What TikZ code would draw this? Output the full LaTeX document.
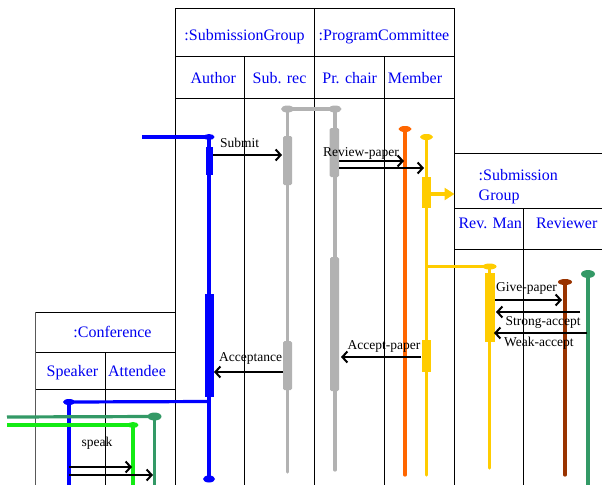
\documentclass[tikz,border=0pt]{standalone}
\usepackage{fontspec}
\setmainfont{Liberation Serif}
\usetikzlibrary{arrows.meta,shapes.geometric}
\definecolor{hblue}{RGB}{0,0,240}
\definecolor{lblue}{RGB}{0,0,255}
\definecolor{lgray}{RGB}{178,178,178}
\definecolor{lorange}{RGB}{255,102,0}
\definecolor{lyellow}{RGB}{255,204,0}
\definecolor{lbrown}{RGB}{153,51,0}
\definecolor{lsea}{RGB}{51,153,102}
\definecolor{llime}{RGB}{20,235,20}
\tikzset{
  grid/.style={draw=black, line width=1pt},
  hdr/.style={text=hblue, font=\fontsize{16}{18}\selectfont, inner sep=0pt, anchor=base},
  msg/.style={font=\fontsize{13.5}{15}\selectfont, inner sep=0pt, anchor=base west},
  life/.style={line width=3.2pt},
  head/.style={ellipse, inner sep=0pt, draw=none},
  bar/.style={rounded corners=1.5pt},
  arr/.style={-{Straight Barb[length=5pt,width=11pt]}, line width=2pt, black},
  bigarr/.style={-{Triangle[length=10pt,width=12pt]}, line width=4pt, lyellow},
}
\begin{document}
\begin{tikzpicture}[x=1pt,y=-1pt]
\useasboundingbox (0,0) rectangle (602,485);

% ---------- grid: SubmissionGroup / ProgramCommittee ----------
\draw[grid] (175,8) -- (454,8);
\draw[grid] (175,56) -- (454,56);
\draw[grid] (175,98) -- (454,98);
\draw[grid] (175,8) -- (175,485);
\draw[grid] (244.7,56) -- (244.7,485);
\draw[grid] (314.3,8) -- (314.3,485);
\draw[grid] (384.3,56) -- (384.3,485);
\draw[grid] (454,8) -- (454,485);
% ---------- grid: Submission Group (right) ----------
\draw[grid] (454,153.5) -- (602,153.5);
\draw[grid] (454,208) -- (602,208);
\draw[grid] (454,249) -- (602,249);
\draw[grid] (523,208) -- (523,485);
% ---------- grid: Conference ----------
\draw[grid] (35,312) -- (175,312);
\draw[grid] (35,352) -- (175,352);
\draw[grid] (35,389) -- (175,389);
\draw[grid, draw=black!65] (35,312) -- (35,485);
\draw[grid] (105,352) -- (105,485);

% ---------- header texts ----------
\node[hdr] (tSG) at (244.5,40.7) {:SubmissionGroup};
\node[hdr] (tPC) at (384,40.7) {:ProgramCommittee};
\node[hdr] (tAu) at (213.2,83.3) {Author};
\node[hdr] (tSR) at (279.5,83.3) {Sub. rec};
\node[hdr] (tCh) at (349.7,83.3) {Pr. chair};
\node[hdr] (tMe) at (415,83.3) {Member};
\node[hdr, anchor=base west] (tS1) at (478.5,180.7) {:Submission};
\node[hdr, anchor=base west] (tS2) at (478.5,200.7) {Group};
\node[hdr] (tRM) at (490.2,228.3) {Rev. Man};
\node[hdr] (tRv) at (566.7,228.3) {Reviewer};
\node[hdr] (tCo) at (112.5,337.3) {:Conference};
\node[hdr] (tSp) at (72.5,376) {Speaker};
\node[hdr] (tAt) at (137,376) {Attendee};

% ---------- Author (blue) ----------
\coordinate (aIn) at (142,137);
\node[head, fill=lblue, minimum width=11pt, minimum height=6pt] (hA) at (209,137) {};
\coordinate (aTurn) at (209,401.5);
\node[head, fill=lblue, minimum width=12pt, minimum height=7pt] (eA) at (209,479) {};
\draw[life, lblue] (aIn) -- (hA.center);
\draw[life, lblue] (hA.center) -- (eA.center);
\fill[lblue] (205.5,147) rectangle (212.5,175);
\fill[lblue] (205,294) rectangle (213.5,397);

% ---------- Speaker (blue) ----------
\node[head, fill=lblue, minimum width=12pt, minimum height=6pt] (hSp) at (69,402) {};
\coordinate (eSp) at (69,485);
\draw[life, lblue] (aTurn) -- (hSp.center);
\draw[life, lblue] (hSp.center) -- (eSp);

% ---------- Attendees (greens) ----------
\coordinate (gIn) at (7,417);
\node[head, fill=lsea, minimum width=14pt, minimum height=8pt] (hG) at (154.5,416.5) {};
\coordinate (eG) at (154.5,485);
\draw[life, lsea] (gIn) -- (hG.center);
\draw[life, lsea] (hG.center) -- (eG);
\coordinate (lIn) at (7,425);
\node[head, fill=llime, minimum width=11pt, minimum height=6pt] (hL) at (133,425) {};
\coordinate (eL) at (133,485);
\draw[life, llime] (lIn) -- (hL.center);
\draw[life, llime] (hL.center) -- (eL);

% ---------- Sub. rec / Pr. chair (gray) ----------
\node[head, fill=lgray, minimum width=13pt, minimum height=7pt] (hSR) at (287.5,109) {};
\node[head, fill=lgray, minimum width=13pt, minimum height=7pt] (hPC) at (335,109) {};
\coordinate (eSR) at (287.5,472);
\coordinate (ePC) at (335,470);
\draw[life, lgray] (hSR.center) -- (hPC.center);
\draw[life, lgray, line cap=round] (hSR.center) -- (eSR);
\draw[life, lgray, line cap=round] (hPC.center) -- (ePC);
\fill[lgray, bar] (283,136) rectangle (292,185);
\fill[lgray, bar] (283,341) rectangle (292,390);
\fill[lgray, bar] (329.5,128) rectangle (339,177);
\fill[lgray, bar] (330,257) rectangle (339,391);

% ---------- Member (orange, yellow) ----------
\node[head, fill=lorange, minimum width=13pt, minimum height=6pt] (hO) at (405,129) {};
\coordinate (eO) at (405,475);
\draw[life, lorange, line cap=round] (hO.center) -- (eO);
\node[head, fill=lyellow, minimum width=13pt, minimum height=6pt] (hY) at (426.5,137) {};
\coordinate (eY) at (426.5,475);
\draw[life, lyellow, line cap=round] (hY.center) -- (eY);
\fill[lyellow] (421.5,177) rectangle (431,208);
\fill[lyellow] (421.5,340) rectangle (431,372);
\coordinate (yOut) at (431,194);
\coordinate (yIn) at (454.5,194);
\draw[bigarr] (yOut) -- (yIn);
\coordinate (yTurn) at (426.5,266.5);

% ---------- Rev. Man (yellow) ----------
\node[head, fill=lyellow, minimum width=14pt, minimum height=6pt] (hRM) at (489.5,266.5) {};
\coordinate (eRM) at (489.5,468);
\draw[life, lyellow] (yTurn) -- (hRM.center);
\draw[life, lyellow, line cap=round] (hRM.center) -- (eRM);
\fill[lyellow] (485,273) rectangle (495,342);

% ---------- Reviewers ----------
\node[head, fill=lbrown, minimum width=14pt, minimum height=6pt] (hB) at (565,282) {};
\coordinate (eB) at (565,475);
\draw[life, lbrown, line cap=round] (hB.center) -- (eB);
\node[head, fill=lsea, minimum width=14pt, minimum height=8pt] (hR) at (588,274) {};
\coordinate (eR) at (588,485);
\draw[life, lsea] (hR.center) -- (eR);

% ---------- messages ----------
\coordinate (m1a) at (213,155);   \coordinate (m1b) at (282,155);
\draw[arr] (m1a) -- (m1b);
\node[msg] (l1) at (220,147) {Submit};

\coordinate (m2a) at (339,161);   \coordinate (m2b) at (404,161);
\coordinate (m3a) at (339,168);   \coordinate (m3b) at (424,168);
\draw[arr] (m2a) -- (m2b);
\draw[arr] (m3a) -- (m3b);
\node[msg] (l2) at (323,156) {Review-paper};

\coordinate (m4a) at (495,300);   \coordinate (m4b) at (562,300);
\draw[arr] (m4a) -- (m4b);
\node[msg] (l4) at (496,291) {Give-paper};

\coordinate (m5a) at (580,312);   \coordinate (m5b) at (496,312);
\draw[arr] (m5a) -- (m5b);
\node[msg] (l5) at (505.5,325.5) {Strong-accept};

\coordinate (m6a) at (587,333);   \coordinate (m6b) at (494,333);
\draw[arr] (m6a) -- (m6b);
\node[msg] (l6) at (504,346.5) {Weak-accept};

\node[msg] (l7) at (347.5,349) {Accept-paper};
\coordinate (m7a) at (421,357);   \coordinate (m7b) at (341,357);
\draw[arr] (m7a) -- (m7b);

\node[msg] (l8) at (219,361) {Acceptance};
\coordinate (m8a) at (283,372);   \coordinate (m8b) at (214,372);
\draw[arr] (m8a) -- (m8b);

\node[msg] (l9) at (81.5,446.5) {speak};
\coordinate (m9a) at (69,467);    \coordinate (m9b) at (132,467);
\coordinate (m10a) at (69,475);   \coordinate (m10b) at (153,475);
\draw[arr] (m9a) -- (m9b);
\draw[arr] (m10a) -- (m10b);
\end{tikzpicture}
\end{document}
